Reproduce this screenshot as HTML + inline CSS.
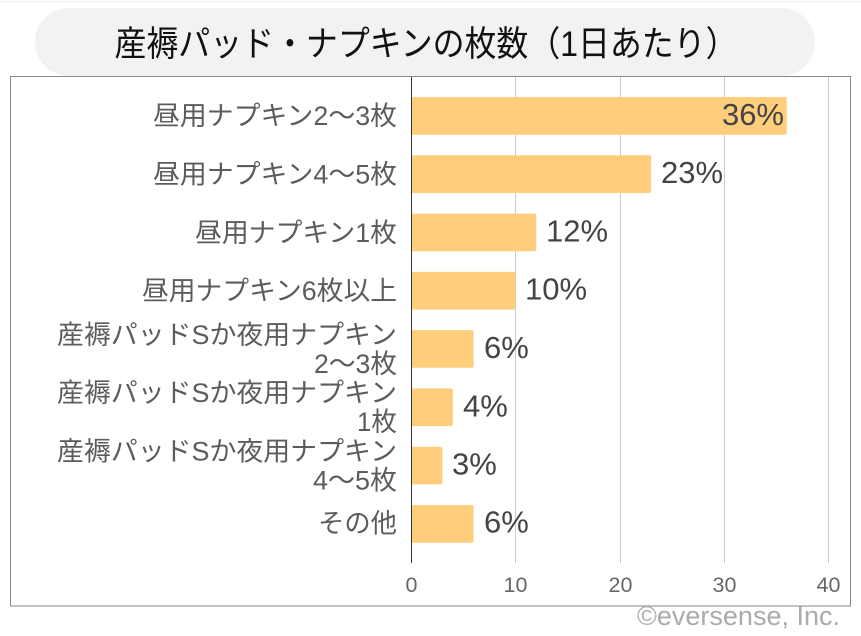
<!DOCTYPE html>
<html><head><meta charset="utf-8"><style>
html,body{margin:0;padding:0;background:#fff;}
svg{display:block;}
text{font-family:"Liberation Sans","Noto Sans CJK JP",sans-serif;}
</style></head><body>
<svg width="861" height="636" viewBox="0 0 861 636" xmlns="http://www.w3.org/2000/svg">
<rect x="0" y="0" width="861" height="636" fill="#fff"/>
<line x1="0" y1="1.5" x2="861" y2="1.5" stroke="#ececec" stroke-width="1"/>
<rect x="35" y="8" width="780" height="68" rx="34" ry="34" fill="#f2f2f2"/>
<text x="426" y="56" text-anchor="middle" font-size="35" fill="#111" textLength="623" lengthAdjust="spacingAndGlyphs" font-weight="400">産褥パッド・ナプキンの枚数（1日あたり）</text>
<rect x="10.5" y="76.5" width="840" height="529.5" fill="#fff" stroke="#888" stroke-width="1"/>
<g stroke="#cccccc" stroke-width="1">
<line x1="515.5" y1="77" x2="515.5" y2="563"/>
<line x1="620.5" y1="77" x2="620.5" y2="563"/>
<line x1="724.5" y1="77" x2="724.5" y2="563"/>
<line x1="828.5" y1="77" x2="828.5" y2="563"/>
</g>
<g fill="#FECE7C">
<rect x="411" y="97" width="375.8" height="37.7" rx="2"/>
<rect x="411" y="155.3" width="240.1" height="37.7" rx="2"/>
<rect x="411" y="213.6" width="125.3" height="37.7" rx="2"/>
<rect x="411" y="271.9" width="104.4" height="37.7" rx="2"/>
<rect x="411" y="330.1" width="62.6" height="37.7" rx="2"/>
<rect x="411" y="388.4" width="41.8" height="37.7" rx="2"/>
<rect x="411" y="446.7" width="31.3" height="37.7" rx="2"/>
<rect x="411" y="505" width="62.6" height="37.7" rx="2"/>
</g>
<line x1="411.5" y1="77" x2="411.5" y2="563" stroke="#333" stroke-width="1"/>
<g font-size="31" fill="#444">
<text x="784" y="125" text-anchor="end">36%</text>
<text x="661" y="183">23%</text>
<text x="546" y="241.5">12%</text>
<text x="525" y="299.5">10%</text>
<text x="484" y="358">6%</text>
<text x="463" y="416.5">4%</text>
<text x="452" y="474.5">3%</text>
<text x="484" y="532.5">6%</text>
</g>
<g font-size="26.5" fill="#5c5c5c" text-anchor="end">
<text x="397" y="125" textLength="244" lengthAdjust="spacingAndGlyphs">昼用ナプキン2〜3枚</text>
<text x="397" y="183.5" textLength="244" lengthAdjust="spacingAndGlyphs">昼用ナプキン4〜5枚</text>
<text x="397" y="242" textLength="202" lengthAdjust="spacingAndGlyphs">昼用ナプキン1枚</text>
<text x="397" y="300" textLength="255" lengthAdjust="spacingAndGlyphs">昼用ナプキン6枚以上</text>
<text x="397" y="344" textLength="340" lengthAdjust="spacingAndGlyphs">産褥パッドSか夜用ナプキン</text>
<text x="397" y="373" textLength="83" lengthAdjust="spacingAndGlyphs">2〜3枚</text>
<text x="397" y="402" textLength="340" lengthAdjust="spacingAndGlyphs">産褥パッドSか夜用ナプキン</text>
<text x="397" y="431" textLength="40" lengthAdjust="spacingAndGlyphs">1枚</text>
<text x="397" y="460.5" textLength="340" lengthAdjust="spacingAndGlyphs">産褥パッドSか夜用ナプキン</text>
<text x="397" y="489.5" textLength="84" lengthAdjust="spacingAndGlyphs">4〜5枚</text>
<text x="397" y="532.5" textLength="79" lengthAdjust="spacingAndGlyphs">その他</text>
</g>
<g font-size="21.5" fill="#666" text-anchor="middle">
<text x="411.5" y="592">0</text>
<text x="515.5" y="592">10</text>
<text x="620.5" y="592">20</text>
<text x="724.5" y="592">30</text>
<text x="828.5" y="592">40</text>
</g>
<text x="840" y="625" text-anchor="end" font-size="27" fill="#ababab">©eversense, Inc.</text>
</svg>
</body></html>
